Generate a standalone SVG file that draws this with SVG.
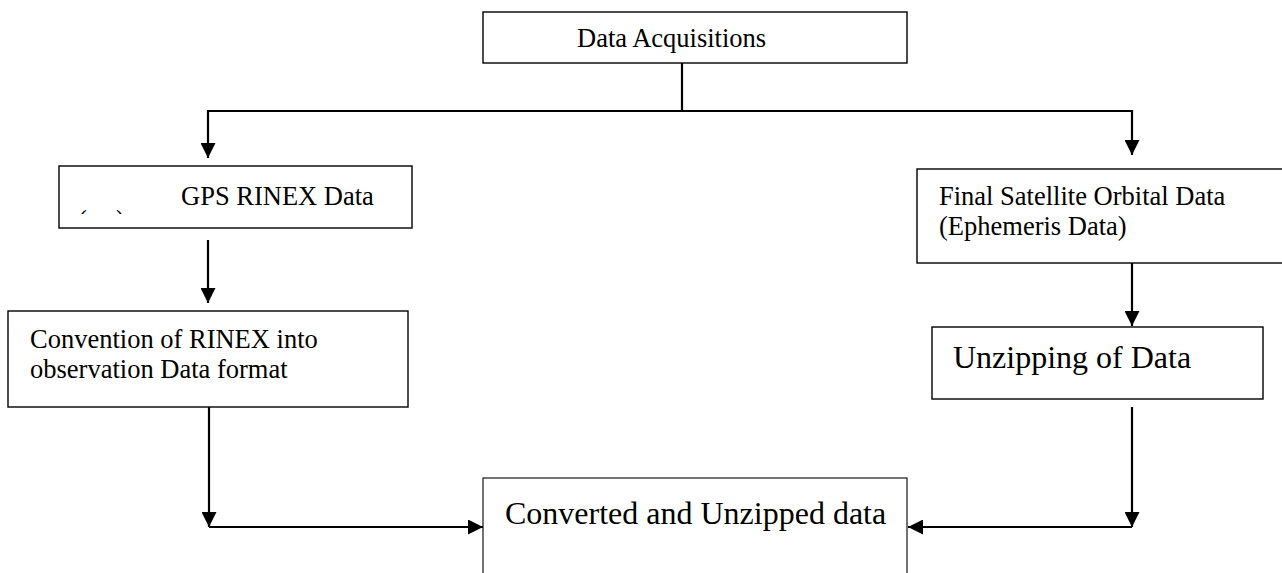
<svg xmlns="http://www.w3.org/2000/svg" width="1282" height="573" viewBox="0 0 1282 573">
  <style>
    .box { fill: #ffffff; stroke: #000000; stroke-width: 1.4; }
    .thin { stroke-width: 1.1; }
    .t { font-family: "Liberation Serif", "Times New Roman", serif; fill: #000000; }
    .s { font-size: 26.5px; }
    .l { font-size: 32px; }
    .c { fill: none; stroke: #000000; stroke-width: 2.2; }
  </style>
  <defs>
    <marker id="ah" viewBox="0 0 15 15" refX="15" refY="7.5" markerWidth="15" markerHeight="15" markerUnits="userSpaceOnUse" orient="auto">
      <path d="M0,0 L15,7.5 L0,15 z" fill="#000000"/>
    </marker>
    <clipPath id="markclip">
      <rect x="60" y="200" width="100" height="14"/>
    </clipPath>
  </defs>
  <rect width="1282" height="573" fill="#ffffff"/>

  <g id="node-data-acquisitions">
    <rect class="box" x="483" y="12" width="424" height="51"/>
    <text class="t s" x="577" y="47">Data Acquisitions</text>
  </g>

  <g id="node-gps-rinex">
    <rect class="box" x="59" y="166" width="353" height="62"/>
    <text class="t s" x="181" y="205">GPS RINEX Data</text>
    <g clip-path="url(#markclip)">
      <text class="t s" x="78" y="229">(</text>
      <text class="t s" x="116" y="229">)</text>
    </g>
  </g>

  <g id="node-final-satellite">
    <rect class="box" x="917" y="169" width="370" height="94"/>
    <text class="t s" x="939" y="205">Final Satellite Orbital Data</text>
    <text class="t s" x="939" y="235">(Ephemeris Data)</text>
  </g>

  <g id="node-convention">
    <rect class="box" x="8" y="311" width="400" height="96"/>
    <text class="t s" x="30" y="348">Convention of RINEX into</text>
    <text class="t s" x="30" y="378">observation Data format</text>
  </g>

  <g id="node-unzipping">
    <rect class="box" x="932" y="327" width="331" height="72"/>
    <text class="t l" x="953" y="368">Unzipping of Data</text>
  </g>

  <g id="node-converted">
    <rect class="box thin" x="483" y="478" width="424" height="110"/>
    <text class="t l" x="505" y="524">Converted and Unzipped data</text>
  </g>

  <g id="connectors">
    <path class="c" d="M682,63 V111"/>
    <path class="c" d="M207,111 H1132"/>
    <path class="c" d="M208,110 V158" marker-end="url(#ah)"/>
    <path class="c" d="M1132,110 V155" marker-end="url(#ah)"/>
    <path class="c" d="M208,240 V303" marker-end="url(#ah)"/>
    <path class="c" d="M1132,263 V326" marker-end="url(#ah)"/>
    <path class="c" d="M209,407 V527" marker-end="url(#ah)"/>
    <path class="c" d="M209,527 H483" marker-end="url(#ah)"/>
    <path class="c" d="M1132,407 V527" marker-end="url(#ah)"/>
    <path class="c" d="M1132,527 H908" marker-end="url(#ah)"/>
  </g>
</svg>
